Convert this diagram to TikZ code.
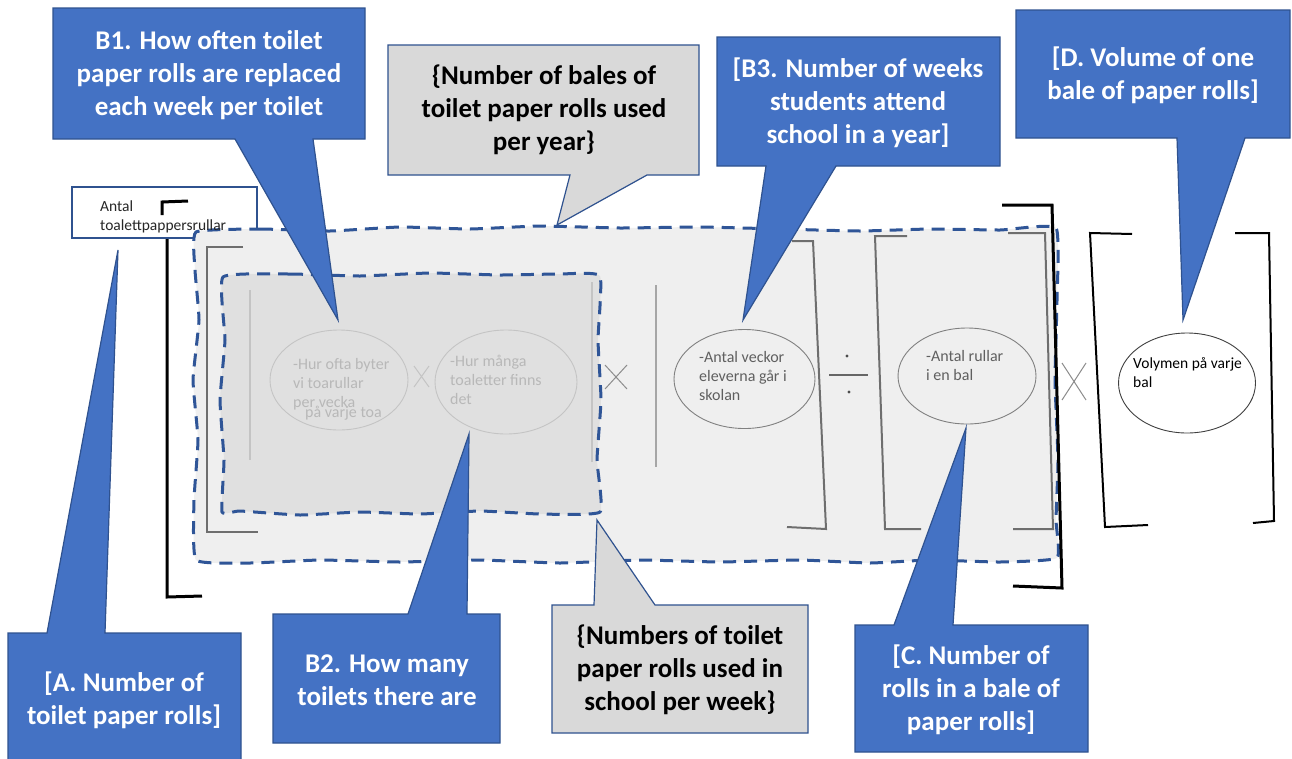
\documentclass[tikz,border=0pt]{standalone}
\usepackage{fontspec}
\setmainfont{Carlito}
\usetikzlibrary{shapes.geometric}
\definecolor{cblue}{HTML}{4472C4}
\definecolor{cbord}{HTML}{2F528F}
\definecolor{dashblue}{HTML}{2F5597}
\definecolor{gcall}{HTML}{D9D9D9}
\definecolor{outerfill}{HTML}{EFEFEF}
\definecolor{innerfill}{HTML}{E0E0E0}
\definecolor{brk}{HTML}{6E6E6E}
\definecolor{faint}{HTML}{C4C4C4}
\definecolor{fainttext}{HTML}{B8B8B8}
\definecolor{midtext}{HTML}{5F5F5F}
\begin{document}
\begin{tikzpicture}[x=1pt,y=-1pt,
  bluecall/.style={fill=cblue,draw=cbord,line width=1.2pt,line join=miter},
  graycall/.style={fill=gcall,draw=cbord,line width=1.2pt,line join=miter},
  calltext/.style={font=\fontsize{27}{33}\selectfont\bfseries,align=center,inner sep=0pt},
  smalltext/.style={font=\fontsize{16}{19}\selectfont,align=left,inner sep=0pt,anchor=west},
  ell/.style={ellipse,inner sep=0pt,line width=0.9pt},
  region/.style={dash pattern=on 13pt off 8pt,line width=3pt,draw=dashblue},
  graybrk/.style={draw=brk,line width=2pt},
  blackbrk/.style={draw=black,line width=3pt},
  xmark/.style={line width=1pt}]
\useasboundingbox (0,0) rectangle (1292,758);
\clip (0,0) rectangle (1292,758);
\fill[white] (0,0) rectangle (1292,758);

% label box
\node[draw=cbord,fill=white,line width=1.2pt,minimum width=185pt,minimum height=51pt,inner sep=0pt] (lab) at (164.5,212.5) {};

% outer region
\path[region,fill=outerfill] plot[smooth cycle,tension=0.25] coordinates {
 (196,232) (260,229) (330,231) (400,227) (470,229) (540,226) (620,228) (700,227) (780,229) (860,231) (930,229) (1000,230) (1056,228)
 (1057,300) (1055,380) (1058,460) (1056,520) (1057,558)
 (1000,562) (930,560) (870,563) (800,560) (720,562) (640,560) (560,563) (480,560) (400,562) (320,560) (250,563) (196,560)
 (194,500) (198,440) (193,380) (199,320) (195,270)};

% inner region
\path[region,fill=innerfill] plot[smooth cycle,tension=0.25] coordinates {
 (223,277) (290,274) (360,276) (430,273) (500,275) (560,274) (600,276)
 (598,340) (601,400) (597,460) (600,512)
 (540,514) (480,511) (420,514) (360,512) (300,515) (240,511) (222,512)
 (224,460) (220,400) (225,340)};

% label text
\node[smalltext,text=black!85,font=\fontsize{15.5}{19}\selectfont] (labt) at (100,216.5) {Antal\\toalettpappersrullar};

% brackets
\draw[graybrk] (243,247) -- (207,247) -- (207,532) -- (258,532);
\draw[draw=faint,line width=1.2pt] (250,290) -- (250,460);
\draw[draw=faint,line width=1.2pt] (592,282) -- (592,462);
\draw[draw=black!35,line width=1.5pt] (656,285) -- (656,467);
\draw[graybrk] (792,241) -- (813,241) -- (826,529) -- (787,527);
\draw[graybrk] (907,236) -- (875,236) -- (885,529) -- (921,529);
\draw[graybrk] (1008,233) -- (1045,233) -- (1053,529) -- (1013,529);
\draw[blackbrk] (162,215) -- (162,202) -- (188,201);
\draw[blackbrk] (167,239) -- (167,597) -- (202,596);
\draw[blackbrk] (1002,205) -- (1052,205) -- (1062,588) -- (1013,586);
\draw[draw=black,line width=2pt] (1132,234) -- (1090,233) -- (1105,527) -- (1148,525);
\draw[draw=black,line width=2pt] (1235,233) -- (1269,233) -- (1274,521) -- (1253,523);

% ellipses
\node[ell,draw=faint,minimum width=138pt,minimum height=100pt] (e1) at (339,380) {};
\node[ell,draw=faint,minimum width=142pt,minimum height=104pt] (e2) at (506,382) {};
\node[ell,draw=black!50,minimum width=141pt,minimum height=99pt] (e3) at (744.5,379) {};
\node[ell,draw=black!50,minimum width=138pt,minimum height=96pt] (e4) at (967,376) {};
\node[ell,draw=black!75,minimum width=137pt,minimum height=100pt] (e5) at (1187,383) {};

\node[smalltext,text=fainttext] (t1) at (293,384) {-Hur ofta byter\\vi toarullar\\per vecka};
\node[smalltext,text=fainttext] (t1b) at (305,413) {på varje toa};
\node[smalltext,text=fainttext] (t2) at (450,380) {-Hur många\\toaletter finns\\det};
\node[smalltext,text=midtext] (t3) at (699,376) {-Antal veckor\\eleverna går i\\skolan};
\node[smalltext,text=midtext] (t4) at (926,365.5) {-Antal rullar\\i en bal};
\node[smalltext,text=black,font=\fontsize{15.5}{19}\selectfont] (t5) at (1133,372.5) {Volymen på varje\\bal};

% multiplication signs and division
\draw[xmark,draw=faint] (414,366) -- (429,387) (429,366) -- (414,387);
\draw[xmark,draw=black!45] (605,365) -- (627,389) (627,365) -- (605,389);
\draw[xmark,draw=black!45] (1062,363) -- (1086,400) (1086,363) -- (1062,400);
\fill[black!70] (847,356) circle (1.6pt) (849,392) circle (1.6pt);
\draw[draw=black!60,line width=1.2pt] (829,375) -- (868,375);

% callouts
\path[bluecall] (53,8) -- (365,8) -- (365,139) -- (313,139) -- (338,320) -- (235,139) -- (53,139) -- cycle;
\node[calltext,text=white] (cB1) at (209,75) {B1. How often toilet\\paper rolls are replaced\\each week per toilet};

\path[graycall] (388,45) -- (699,45) -- (699,175) -- (647,175) -- (557,225) -- (570,175) -- (388,175) -- cycle;
\node[calltext,text=black] (cTop) at (544,110) {\{Number of bales of\\toilet paper rolls used\\per year\}};

\path[bluecall] (717,37) -- (1000,37) -- (1000,166) -- (836,166) -- (743,320) -- (766,166) -- (717,166) -- cycle;
\node[calltext,text=white] (cB3) at (858,103) {[B3. Number of weeks\\students attend\\school in a year]};

\path[bluecall] (1016,10) -- (1290,10) -- (1290,138) -- (1245,138) -- (1183,320) -- (1177,138) -- (1016,138) -- cycle;
\node[calltext,text=white] (cD) at (1153,75) {[D. Volume of one\\bale of paper rolls]};

\path[bluecall] (8,633) -- (47,633) -- (118,250) -- (105,633) -- (241,633) -- (241,775) -- (8,775) -- cycle;
\node[calltext,text=white] (cA) at (124,700) {[A. Number of\\toilet paper rolls]};

\path[bluecall] (273,614) -- (408,614) -- (469,434) -- (467,614) -- (500,614) -- (500,743) -- (273,743) -- cycle;
\node[calltext,text=white] (cB2) at (387,680) {B2. How many\\toilets there are};

\path[graycall] (552,605) -- (594,605) -- (597,520) -- (655,605) -- (808,605) -- (808,733) -- (552,733) -- cycle;
\node[calltext,text=black] (cBot) at (680,670) {\{Numbers of toilet\\paper rolls used in\\school per week\}};

\path[bluecall] (855,625) -- (894,625) -- (966,428) -- (953,625) -- (1088,625) -- (1088,752) -- (855,752) -- cycle;
\node[calltext,text=white] (cC) at (971,690) {[C. Number of\\rolls in a bale of\\paper rolls]};
\end{tikzpicture}
\end{document}
